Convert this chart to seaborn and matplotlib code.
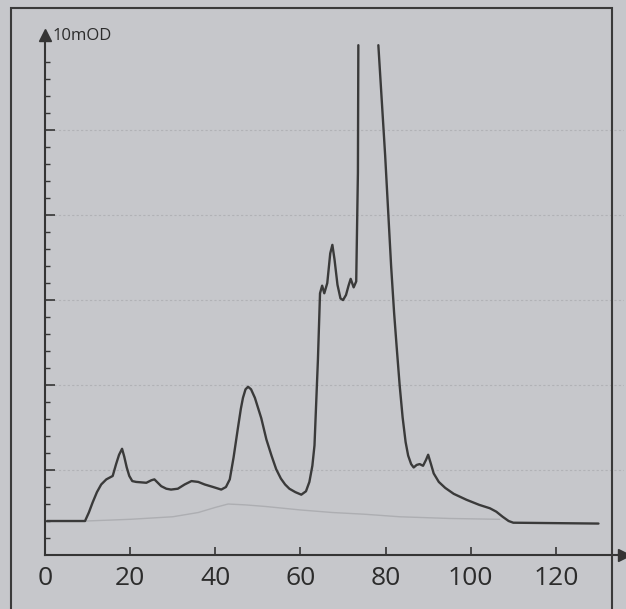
"""
Chromatogram recreation (10mOD trace vs. volume)
"""

import numpy as np
import pandas as pd
import seaborn as sns
import matplotlib.pyplot as plt
from matplotlib.patches import Rectangle

# Data (y in grid units, one unit = one major tick)
# trace left of the big off-scale peak
x_left = [0.5, 9.4, 10.3, 11.2, 12.2, 13.2, 14.4, 15.9, 16.7, 17.4, 18.1, 18.6,
          19.2, 19.8, 20.5, 21.4, 23.8, 25.0, 25.7, 26.5, 27.3, 28.5, 29.6,
          31.2, 32.8, 34.4, 36.0, 37.5, 39.5, 41.4, 42.5, 43.4, 44.3, 45.3,
          46.0, 46.5, 47.1, 47.7, 48.4, 49.3, 50.8, 52.0, 53.2, 54.3, 55.4,
          56.4, 57.4, 58.8, 60.2, 61.3, 62.1, 62.8, 63.3, 64.1, 64.6, 65.1,
          65.6, 66.3, 67.0, 67.5, 68.0, 68.7, 69.4, 70.0, 70.7, 71.3, 71.8,
          72.5, 73.1, 73.5, 73.6]
y_left = [0.40, 0.40, 0.50, 0.62, 0.74, 0.83, 0.89, 0.93, 1.07, 1.18, 1.25, 1.16,
          1.03, 0.93, 0.87, 0.86, 0.85, 0.88, 0.89, 0.85, 0.81, 0.78, 0.77,
          0.78, 0.83, 0.87, 0.86, 0.83, 0.80, 0.77, 0.80, 0.89, 1.15, 1.49,
          1.72, 1.85, 1.95, 1.98, 1.95, 1.85, 1.61, 1.36, 1.17, 1.01, 0.90,
          0.83, 0.78, 0.74, 0.71, 0.75, 0.86, 1.05, 1.29, 2.29, 3.08, 3.17,
          3.08, 3.20, 3.55, 3.65, 3.48, 3.18, 3.02, 3.00, 3.06, 3.17, 3.25,
          3.15, 3.22, 4.50, 6.00]

# trace right of the big peak
x_right = [78.3, 79.1, 79.9, 80.6, 81.3, 82.0, 82.6, 83.3, 84.0, 84.7, 85.3,
           86.0, 86.6, 87.3, 88.0, 88.8, 89.5, 90.0, 90.6, 91.3, 92.5, 94.0,
           96.0, 99.0, 102.0, 104.5, 106.0, 107.5, 108.9, 110.0, 130.0]
y_right = [6.00, 5.35, 4.70, 4.05, 3.40, 2.85, 2.45, 2.00, 1.62, 1.33, 1.17,
           1.07, 1.03, 1.06, 1.07, 1.05, 1.12, 1.18, 1.08, 0.96, 0.86, 0.79,
           0.72, 0.65, 0.59, 0.55, 0.51, 0.45, 0.40, 0.38, 0.37]

# faint background trace
x_faint = [9.6, 20, 30, 36, 40, 43, 47, 52, 60, 67.5, 75, 83.3, 95, 106.8]
y_faint = [0.40, 0.42, 0.45, 0.50, 0.56, 0.60, 0.59, 0.57, 0.53, 0.50, 0.48, 0.45, 0.43, 0.42]

x_ticks = [0, 20, 40, 60, 80, 100, 120]

df = pd.concat([
    pd.DataFrame({"volume": x_left, "signal": y_left, "segment": "left"}),
    pd.DataFrame({"volume": x_right, "signal": y_right, "segment": "right"}),
])
df_faint = pd.DataFrame({"volume": x_faint, "signal": y_faint})

bg = "#c6c7cb"
ink = "#353535"

sns.set_theme(style="ticks", rc={"figure.facecolor": bg, "axes.facecolor": bg})
plt.rcParams["font.family"] = ["Open Sans", "DejaVu Sans"]

fig = plt.figure(figsize=(6.26, 6.09), dpi=100)
ax = fig.add_axes([45 / 626, 1 - 555 / 609, (624 - 45) / 626, (555 - 35) / 609])

# faint gridlines
for yv in range(1, 6):
    ax.axhline(yv, color="#b1b2b6", lw=0.8, ls=(0, (2, 2)), zorder=0)

sns.lineplot(data=df_faint, x="volume", y="signal", color="#adaeb2", lw=1.0,
             sort=False, ax=ax)
sns.lineplot(data=df, x="volume", y="signal", units="segment", estimator=None,
             color="#3a3a3a", lw=1.7, sort=False, ax=ax)

ax.set_xlim(0, 136)
ax.set_ylim(0, 6.12)
ax.set_xlabel("")
ax.set_ylabel("")

ax.set_xticks(x_ticks)
ax.set_xticklabels([str(t) for t in x_ticks])
ax.set_yticks(np.arange(1, 6))
ax.set_yticks(np.arange(0.2, 5.9, 0.2), minor=True)
ax.set_yticklabels([])
ax.tick_params(axis="x", direction="in", length=6, width=1.2, color=ink,
               labelsize=19, labelcolor="#2c2c2c", pad=8)
ax.tick_params(axis="y", which="major", direction="in", length=7, width=1.2, color=ink)
ax.tick_params(axis="y", which="minor", direction="in", length=3.5, width=1, color=ink)

sns.despine(ax=ax)
for side in ["left", "bottom"]:
    ax.spines[side].set_color(ink)
    ax.spines[side].set_linewidth(1.5)

# arrow heads on the axes
ax.plot(1, 0, ">", color=ink, ms=9, transform=ax.get_yaxis_transform(), clip_on=False)
ax.plot(0, 1, "^", color=ink, ms=9, transform=ax.get_xaxis_transform(), clip_on=False)

fig.text(53 / 626, 1 - 40 / 609, "10mOD", fontsize=12, color="#2c2c2c", va="baseline")

# outer frame
fig.add_artist(Rectangle((11 / 626, -0.02), (612 - 11) / 626, 1.02 - 8 / 609,
                         transform=fig.transFigure, fill=False, ec="#3a3a3a", lw=1.5))

plt.savefig("out.png", dpi=100, facecolor=bg)
